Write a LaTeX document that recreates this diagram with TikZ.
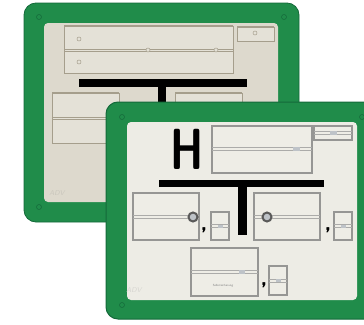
\documentclass[tikz,border=0pt]{standalone}
\usepackage{xcolor}
\usepackage{tikz}
\definecolor{signgreen}{RGB}{32,140,74}
\definecolor{signedge}{RGB}{20,105,58}
\definecolor{backpanel}{RGB}{221,217,205}
\definecolor{frontpanel}{RGB}{237,236,229}
\definecolor{backplate}{RGB}{228,225,215}
\definecolor{backrim}{RGB}{165,158,140}
\definecolor{frontplate}{RGB}{238,237,230}
\definecolor{frontrim}{RGB}{150,150,148}
\definecolor{tagfill}{RGB}{190,195,200}
\tikzset{
	backplt/.style={draw=backrim, line width=0.9pt, fill=backplate},
	frontplt/.style={draw=frontrim, line width=2pt, fill=frontplate},
	rail/.style={draw=frontrim!80, line width=0.6pt},
	hole/.style={draw=signedge, line width=0.5pt},
}
\begin{document}
\begin{tikzpicture}[x=1pt, y=-1pt]
	\useasboundingbox (0,0) rectangle (364,324);
	\clip (0,0) rectangle (364,324);
	\def\rr{12pt}

	% back sign
	\fill[signgreen, draw=signedge, line width=0.8pt, rounded corners=\rr] (24,3) rectangle (299,222);
	\fill[backpanel, rounded corners=4pt] (44,23) rectangle (278,202);
	\draw[hole] (39,17) circle (2.5);
	\draw[hole] (284,17) circle (2.5);
	\draw[hole] (39,207) circle (2.5);

	\draw[backplt] (64,26) rectangle (233,73);
	\draw[backrim, line width=0.5pt] (64,49.5) -- (233,49.5);
	\draw[backrim, line width=0.5pt] (64,51.5) -- (233,51.5);
	\draw[backrim, line width=1.6pt] (64,26) -- (233,26);
	\foreach \px/\py in {79/39, 79/62, 148/50, 216/50}
		\draw[backrim, line width=0.5pt, fill=backplate] (\px,\py) circle (2);

	\draw[backplt] (237,27) rectangle (274,41);
	\draw[backrim, line width=1.4pt] (237,27) -- (274,27);
	\draw[backrim, line width=0.5pt, fill=backplate] (255,33) circle (2);

	\fill[black] (79,79) rectangle (247,87);
	\fill[black] (158,87) rectangle (166,110);

	\draw[backplt] (52,93) rectangle (119,143);
	\draw[backrim, line width=1.4pt] (52,93) -- (119,93);
	\draw[backrim, line width=0.5pt] (52,117) -- (119,117);
	\draw[backrim, line width=0.5pt] (52,119.5) -- (119,119.5);
	\draw[backplt] (175,93) rectangle (242,143);
	\draw[backrim, line width=1.4pt] (175,93) -- (242,93);

	\node[font=\sffamily\itshape\fontsize{7}{7}\selectfont, text=backpanel!80!gray] at (57,193) {ADV};

	% front sign
	\fill[signgreen, draw=signedge, line width=1pt, rounded corners=\rr] (106,102) rectangle (380,319);
	\fill[frontpanel, rounded corners=4pt] (127,122) rectangle (357,300);
	\draw[hole] (122,117) circle (2.5);
	\draw[hole] (362,117) circle (2.5);
	\draw[hole] (122,305) circle (2.5);

	\node[font=\sffamily\bfseries\fontsize{58}{58}\selectfont, xscale=0.72, inner sep=0] (hmark) at (187,149) {H};

	% top plates
	\draw[frontplt] (212,126) rectangle (312,173);
	\draw[rail] (212,147) -- (312,147);
	\draw[rail] (212,150) -- (312,150);
	\fill[tagfill] (293,146.5) rectangle (300,150.5);

	\draw[frontplt] (314,126) rectangle (352,140);
	\draw[rail] (314,131.5) -- (352,131.5);
	\draw[rail] (314,134.5) -- (352,134.5);
	\fill[tagfill] (330,131) rectangle (337,135);

	% T
	\fill[black] (159,180) rectangle (324,187);
	\fill[black] (238,187) rectangle (247,235);

	% lower plates with circle
	\foreach \lx/\cx in {133/193, 254/267} {
		\draw[frontplt] (\lx,193) rectangle (\lx+66,240);
		\draw[rail] (\lx,215.5) -- (\lx+66,215.5);
		\draw[rail] (\lx,218.5) -- (\lx+66,218.5);
		\draw[frontrim!60!black, line width=2pt, fill=tagfill] (\cx,217) circle (4.5);
	}

	% small plates and commas
	\foreach \sx/\sy/\sh/\cx in {211/212/28/204, 334/212/28/328, 269/266/29/264} {
		\draw[frontplt] (\sx,\sy) rectangle (\sx+18,\sy+\sh);
		\draw[rail] (\sx,\sy+0.5*\sh-1.5) -- (\sx+18,\sy+0.5*\sh-1.5);
		\draw[rail] (\sx,\sy+0.5*\sh+1.5) -- (\sx+18,\sy+0.5*\sh+1.5);
		\fill[tagfill] (\sx+7,\sy+0.5*\sh-1.5) rectangle (\sx+12,\sy+0.5*\sh+1.5);
		\node[font=\sffamily\bfseries\fontsize{22}{22}\selectfont, inner sep=0, anchor=base] at (\cx,\sy+\sh-10) {,};
	}

	% bottom plate
	\draw[frontplt] (191,248) rectangle (258,296);
	\draw[rail] (191,270.5) -- (258,270.5);
	\draw[rail] (191,273.5) -- (258,273.5);
	\fill[tagfill] (239,270) rectangle (245,274);
	\node[font=\sffamily\fontsize{3}{3}\selectfont, text=gray] (selbst) at (223,286) {Selbstsicherung};

	\node[font=\sffamily\itshape\fontsize{7}{7}\selectfont, text=frontpanel!80!gray] at (134,290) {ADV};
\end{tikzpicture}
\end{document}
